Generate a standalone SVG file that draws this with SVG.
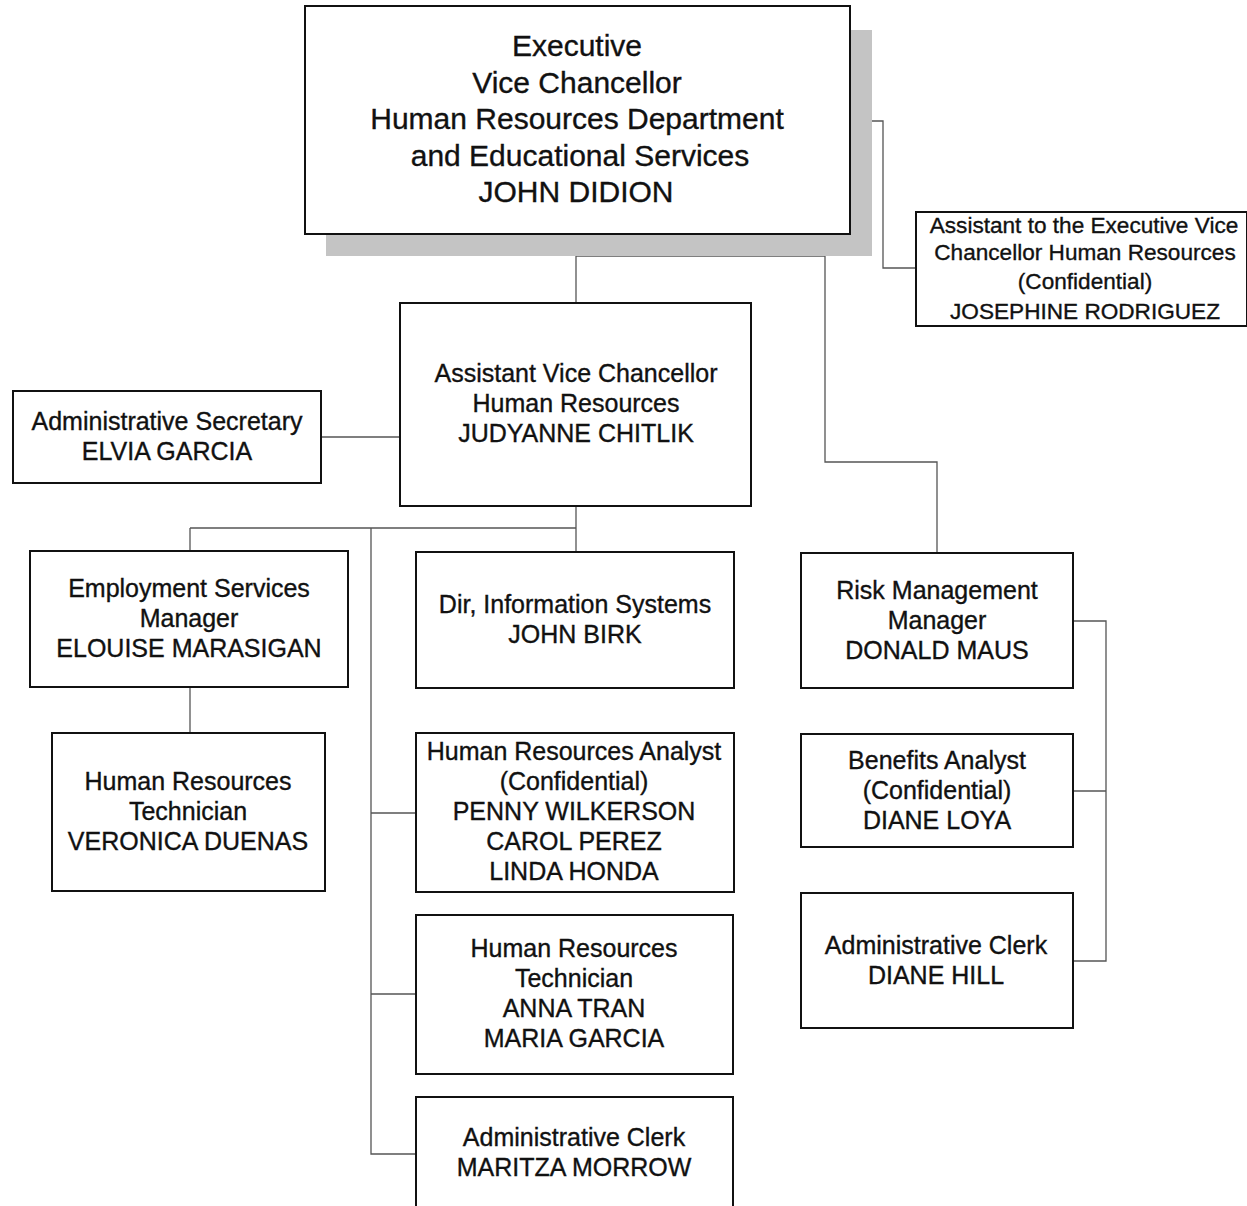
<svg xmlns="http://www.w3.org/2000/svg" width="1247" height="1206" viewBox="0 0 1247 1206">
<style>
.box{fill:#fff;stroke:#111;stroke-width:2}
.t{font-family:"Liberation Sans",Arial,sans-serif;font-size:25px;fill:#111;stroke:#111;stroke-width:0.35;text-anchor:middle}
.big{font-size:30px}
.sm{font-size:22.6px}
.c{fill:none;stroke:#555;stroke-width:1.3}
</style>
<rect width="1247" height="1206" fill="#fff"/>
<g id="connectors">
<polyline class="c" points="576,234 576,303"/>
<polyline class="c" points="576,256 825,256 825,462 937,462 937,553"/>
<polyline class="c" points="850,121 883,121 883,268 916,268"/>
<polyline class="c" points="321,437 400,437"/>
<polyline class="c" points="576,506 576,552"/>
<polyline class="c" points="190,528 576,528"/>
<polyline class="c" points="190,528 190,551"/>
<polyline class="c" points="190,687 190,733"/>
<polyline class="c" points="371,528 371,1154 416,1154"/>
<polyline class="c" points="371,813 416,813"/>
<polyline class="c" points="371,994 416,994"/>
<polyline class="c" points="1073,621 1106,621 1106,961 1073,961"/>
<polyline class="c" points="1073,791 1106,791"/>
</g>
<g id="n-exec">
<path d="M850,30 H872 V256 H326 V234 H850 Z" fill="#c4c4c4"/>
<rect class="box" x="305" y="6" width="545" height="228"/>
<text class="t big" x="577" y="56">Executive</text>
<text class="t big" x="577" y="93">Vice Chancellor</text>
<text class="t big" x="577" y="129">Human Resources Department</text>
<text class="t big" x="580" y="166">and Educational Services</text>
<text class="t big" x="576" y="202">JOHN DIDION</text>
</g>
<g id="n-assistant">
<rect class="box" x="916" y="212" width="331" height="114"/>
<text class="t sm" x="1084" y="233">Assistant to the Executive Vice</text>
<text class="t sm" x="1085" y="260">Chancellor Human Resources</text>
<text class="t sm" x="1085" y="289">(Confidential)</text>
<text class="t sm" x="1085" y="319">JOSEPHINE RODRIGUEZ</text>
</g>
<g id="n-avc">
<rect class="box" x="400" y="303" width="351" height="203"/>
<text class="t" x="576" y="382">Assistant Vice Chancellor</text>
<text class="t" x="576" y="412">Human Resources</text>
<text class="t" x="576" y="442">JUDYANNE CHITLIK</text>
</g>
<g id="n-secretary">
<rect class="box" x="13" y="391" width="308" height="92"/>
<text class="t" x="167" y="430">Administrative Secretary</text>
<text class="t" x="167" y="460">ELVIA GARCIA</text>
</g>
<g id="n-employment">
<rect class="box" x="30" y="551" width="318" height="136"/>
<text class="t" x="189" y="597">Employment Services</text>
<text class="t" x="189" y="627">Manager</text>
<text class="t" x="189" y="657">ELOUISE MARASIGAN</text>
</g>
<g id="n-hrtech-left">
<rect class="box" x="52" y="733" width="273" height="158"/>
<text class="t" x="188" y="790">Human Resources</text>
<text class="t" x="188" y="820">Technician</text>
<text class="t" x="188" y="850">VERONICA DUENAS</text>
</g>
<g id="n-dir-is">
<rect class="box" x="416" y="552" width="318" height="136"/>
<text class="t" x="575" y="613">Dir, Information Systems</text>
<text class="t" x="575" y="643">JOHN BIRK</text>
</g>
<g id="n-hr-analyst">
<rect class="box" x="416" y="733" width="318" height="159"/>
<text class="t" x="574" y="760">Human Resources Analyst</text>
<text class="t" x="574" y="790">(Confidential)</text>
<text class="t" x="574" y="820">PENNY WILKERSON</text>
<text class="t" x="574" y="850">CAROL PEREZ</text>
<text class="t" x="574" y="880">LINDA HONDA</text>
</g>
<g id="n-hrtech-mid">
<rect class="box" x="416" y="915" width="317" height="159"/>
<text class="t" x="574" y="957">Human Resources</text>
<text class="t" x="574" y="987">Technician</text>
<text class="t" x="574" y="1017">ANNA TRAN</text>
<text class="t" x="574" y="1047">MARIA GARCIA</text>
</g>
<g id="n-clerk-mid">
<rect class="box" x="416" y="1097" width="317" height="130"/>
<text class="t" x="574" y="1146">Administrative Clerk</text>
<text class="t" x="574" y="1176">MARITZA MORROW</text>
</g>
<g id="n-risk">
<rect class="box" x="801" y="553" width="272" height="135"/>
<text class="t" x="937" y="599">Risk Management</text>
<text class="t" x="937" y="629">Manager</text>
<text class="t" x="937" y="659">DONALD MAUS</text>
</g>
<g id="n-benefits">
<rect class="box" x="801" y="734" width="272" height="113"/>
<text class="t" x="937" y="769">Benefits Analyst</text>
<text class="t" x="937" y="799">(Confidential)</text>
<text class="t" x="937" y="829">DIANE LOYA</text>
</g>
<g id="n-clerk-right">
<rect class="box" x="801" y="893" width="272" height="135"/>
<text class="t" x="936" y="954">Administrative Clerk</text>
<text class="t" x="936" y="984">DIANE HILL</text>
</g>
</svg>
